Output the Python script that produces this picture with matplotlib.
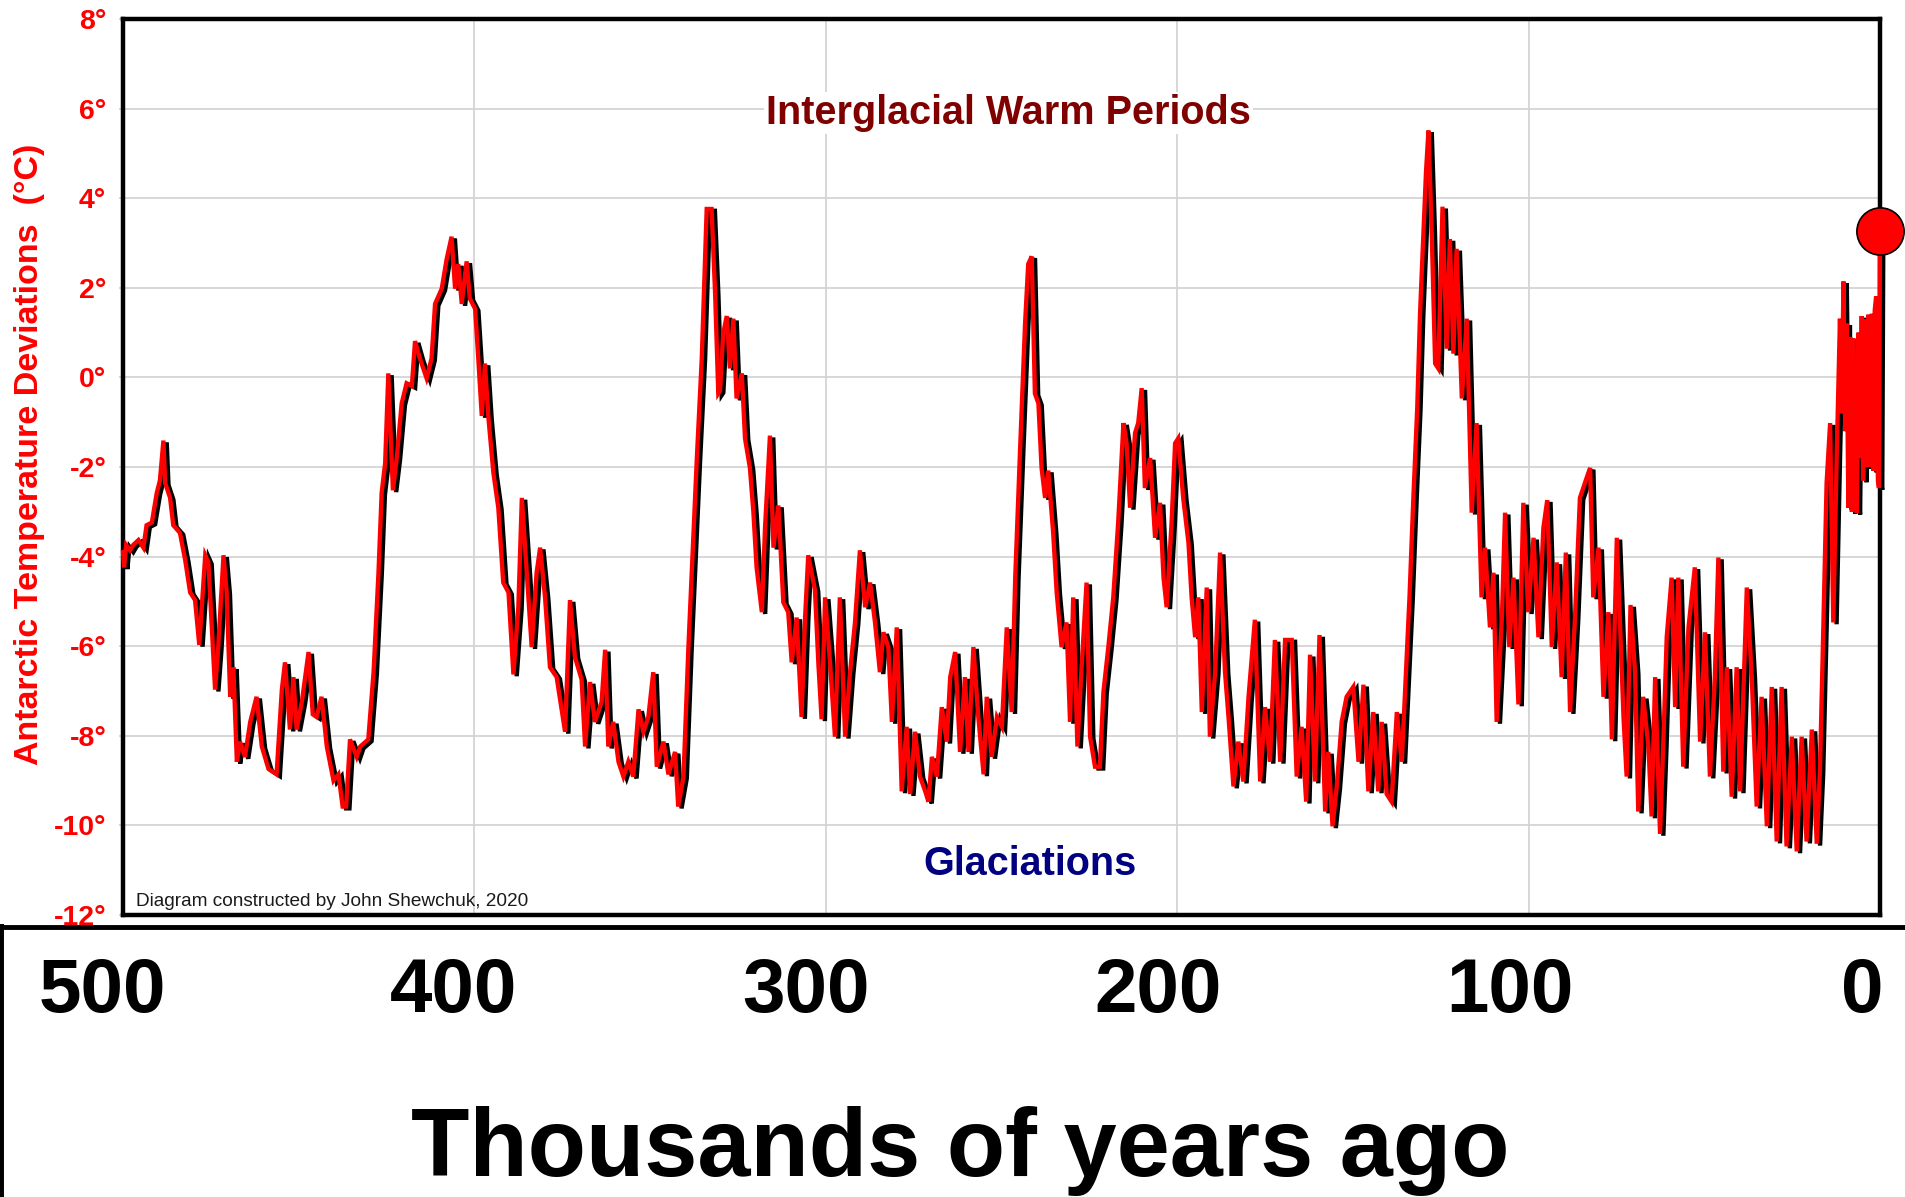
import matplotlib.pyplot as plt
import matplotlib.patheffects as pe
from matplotlib import font_manager

# Antarctic temperature deviation vs. thousands of years ago
age_kyr = [
    500.0, 499.7, 499.1, 498.0, 497.1, 495.6, 494.2, 493.3, 491.8, 490.4,
    489.5, 488.5, 488.0, 486.6, 485.7, 483.8, 482.3, 480.9, 479.5, 478.3,
    476.6, 475.7, 473.8, 472.9, 471.4, 470.5, 469.5, 468.6, 467.6, 466.7,
    465.3, 463.8, 462.0, 460.5, 458.6, 456.3, 454.8, 453.9, 452.5, 451.5,
    450.6, 449.1, 447.2, 446.0, 444.9, 443.5, 442.0, 440.1, 438.7, 437.5,
    436.5, 435.4, 433.5, 432.5, 430.2, 428.7, 427.3, 426.4, 425.4, 424.5,
    423.2, 422.1, 420.7, 419.3, 417.8, 416.9, 415.5, 413.6, 412.2, 411.2,
    409.3, 407.9, 406.5, 405.5, 404.6, 403.6, 402.2, 401.3, 399.8, 398.9,
    397.9, 397.0, 396.0, 394.6, 393.2, 391.8, 390.3, 388.9, 387.5, 386.5,
    385.1, 383.7, 382.3, 381.3, 379.9, 378.5, 376.6, 374.2, 372.8, 371.4,
    369.5, 368.5, 367.1, 365.7, 363.8, 362.8, 361.9, 360.5, 359.0, 357.6,
    356.2, 354.8, 353.3, 351.9, 350.5, 349.1, 348.1, 346.2, 344.8, 342.9,
    342.0, 340.5, 339.1, 337.7, 336.7, 335.3, 333.9, 332.5, 331.5, 330.6,
    330.1, 329.2, 328.2, 327.3, 326.3, 325.4, 323.9, 323.0, 321.6, 320.6,
    319.7, 318.2, 317.3, 315.9, 314.9, 313.5, 312.1, 310.7, 309.7, 308.3,
    306.9, 305.9, 305.0, 303.1, 302.1, 301.2, 300.2, 298.8, 297.4, 296.0,
    294.5, 293.1, 291.7, 290.3, 288.8, 287.4, 286.0, 284.6, 283.6, 282.2,
    281.2, 279.8, 278.4, 277.0, 276.0, 274.6, 273.2, 271.7, 270.8, 269.8,
    268.4, 267.0, 265.6, 264.6, 263.2, 261.8, 260.4, 259.4, 258.0, 256.6,
    255.1, 254.2, 252.8, 251.3, 249.9, 248.5, 247.1, 246.1, 244.7, 243.3,
    242.4, 241.4, 240.5, 239.5, 238.6, 237.6, 236.7, 235.3, 234.3, 232.9,
    231.5, 230.5, 229.6, 228.4, 227.2, 225.8, 224.8, 223.4, 222.0, 221.0,
    219.6, 218.2, 216.8, 215.3, 214.4, 213.4, 212.0, 211.1, 210.1, 209.2,
    207.7, 206.3, 204.9, 203.9, 203.0, 201.6, 200.6, 199.7, 198.3, 196.8,
    195.9, 194.9, 194.0, 193.0, 191.6, 190.7, 189.2, 187.8, 186.4, 185.4,
    184.0, 182.6, 181.2, 179.7, 177.9, 176.4, 175.0, 173.6, 172.2, 170.7,
    169.3, 167.4, 166.0, 164.6, 163.3, 162.2, 160.8, 159.5, 157.9, 157.0,
    155.8, 154.6, 153.2, 151.8, 149.9, 148.4, 147.0, 145.6, 144.2, 142.8,
    141.8, 140.4, 139.0, 137.5, 136.1, 134.9, 133.9, 132.8, 131.7, 130.9,
    130.0, 129.2, 128.5, 127.6, 126.6, 125.7, 124.5, 123.3, 122.4, 121.4,
    120.5, 119.0, 117.6, 116.2, 114.8, 113.4, 112.4, 111.0, 110.0, 109.1,
    107.6, 106.7, 105.5, 104.3, 102.9, 101.5, 100.1, 98.6, 97.2, 95.8,
    94.7, 93.4, 92.0, 90.6, 89.4, 88.2, 86.8, 85.4, 84.0, 82.5,
    81.6, 80.1, 78.7, 77.3, 76.3, 74.9, 73.0, 72.1, 71.0, 69.7,
    68.8, 67.4, 65.9, 65.0, 64.0, 62.6, 61.7, 60.7, 59.3, 58.3,
    57.4, 56.0, 54.5, 52.7, 51.2, 49.8, 48.4, 47.0, 46.0, 44.6,
    43.6, 42.2, 40.8, 39.8, 37.9, 36.5, 35.1, 33.7, 32.2, 30.8,
    29.4, 28.0, 26.6, 25.1, 23.7, 22.3, 20.9, 19.4, 18.0, 17.1,
    16.1, 15.2, 14.2, 13.3, 12.3, 11.4, 10.9, 10.4, 9.9, 9.5,
    9.0, 8.5, 8.0, 7.6, 7.1, 6.6, 6.1, 5.7, 5.2, 4.8,
    4.3, 3.8, 3.3, 2.8, 2.3, 1.9, 1.5, 1.1, 0.6, 0.3,
    0.0,
]
temp_c = [
    -3.90, -4.24, -3.74, -3.86, -3.74, -3.63, -3.80, -3.30, -3.24, -2.58,
    -2.30, -1.41, -2.36, -2.69, -3.30, -3.47, -4.08, -4.80, -4.97, -5.97,
    -3.97, -4.13, -6.97, -6.02, -3.97, -4.80, -7.13, -6.47, -8.58, -8.13,
    -8.47, -7.69, -7.13, -8.24, -8.74, -8.86, -6.97, -6.36, -7.86, -6.69,
    -7.86, -7.24, -6.13, -7.52, -7.58, -7.13, -8.24, -9.00, -8.86, -9.58,
    -9.58, -8.08, -8.47, -8.24, -8.08, -6.58, -4.36, -2.58, -1.91, 0.09,
    -2.52, -1.80, -0.58, -0.13, -0.19, 0.81, 0.42, -0.02, 0.42, 1.64,
    1.98, 2.64, 3.14, 1.98, 2.53, 1.64, 2.59, 1.76, 1.53, 0.42,
    -0.86, 0.31, -0.91, -2.13, -2.91, -4.58, -4.80, -6.63, -5.13, -2.69,
    -4.36, -6.02, -4.36, -3.80, -4.91, -6.47, -6.69, -7.91, -4.97, -6.24,
    -6.74, -8.24, -6.80, -7.69, -7.24, -6.08, -8.24, -7.69, -8.58, -8.91,
    -8.58, -8.91, -7.41, -7.91, -7.58, -6.58, -8.69, -8.13, -8.86, -8.36,
    -9.58, -8.91, -6.02, -3.58, -1.80, 0.42, 3.76, 3.76, 1.87, -0.36,
    -0.30, 0.98, 1.37, 0.20, 1.31, -0.47, 0.09, -1.36, -2.02, -3.02,
    -4.24, -5.24, -3.36, -1.30, -3.80, -2.86, -5.02, -5.24, -6.36, -5.36,
    -7.58, -5.36, -3.97, -4.74, -6.41, -7.63, -4.91, -6.36, -8.02, -4.91,
    -8.02, -6.58, -5.47, -3.86, -5.13, -4.58, -5.47, -6.58, -5.69, -6.02,
    -7.69, -5.58, -9.24, -7.80, -9.30, -7.91, -8.91, -9.24, -9.47, -8.47,
    -8.91, -7.36, -8.13, -6.69, -6.13, -8.36, -6.69, -8.36, -6.02, -7.58,
    -8.86, -7.13, -8.47, -7.58, -7.80, -5.58, -7.47, -4.47, -1.58, 1.20,
    2.53, 2.70, -0.36, -0.58, -2.02, -2.69, -2.08, -3.47, -4.80, -6.02,
    -5.47, -7.69, -4.91, -8.24, -6.47, -4.58, -8.02, -8.69, -8.69, -7.02,
    -6.02, -4.91, -3.24, -1.02, -1.47, -2.91, -1.24, -1.02, -0.24, -2.47,
    -1.80, -3.58, -2.80, -4.47, -5.13, -3.24, -1.47, -1.36, -2.69, -3.69,
    -4.91, -5.80, -4.91, -7.47, -4.69, -8.02, -6.58, -3.91, -6.58, -7.58,
    -9.13, -8.13, -9.02, -7.13, -5.41, -9.02, -7.36, -8.58, -5.86, -8.58,
    -5.86, -5.86, -8.91, -7.80, -9.47, -6.19, -9.02, -5.75, -9.69, -8.36,
    -10.02, -9.13, -7.69, -7.13, -6.91, -8.58, -6.86, -9.24, -7.47, -9.24,
    -7.69, -9.30, -9.47, -7.47, -8.58, -6.58, -4.91, -2.69, -0.69, 1.42,
    3.09, 4.59, 5.51, 3.31, 0.31, 0.20, 3.81, 0.64, 3.09, 0.53,
    2.87, -0.47, 1.31, -3.02, -1.02, -4.91, -3.80, -5.58, -4.36, -7.69,
    -5.36, -3.02, -6.02, -4.47, -7.30, -2.80, -5.24, -3.58, -5.80, -3.36,
    -2.74, -6.02, -4.13, -6.69, -3.91, -7.47, -5.36, -2.69, -2.36, -2.02,
    -4.91, -3.80, -7.13, -5.24, -8.08, -3.58, -7.58, -8.91, -5.08, -6.58,
    -9.69, -7.13, -8.24, -9.80, -6.69, -10.19, -8.24, -5.80, -4.47, -7.36,
    -4.47, -8.69, -5.58, -4.24, -8.13, -5.69, -8.91, -6.69, -4.02, -8.80,
    -6.47, -9.36, -6.47, -9.24, -4.69, -6.69, -9.58, -7.13, -10.02, -6.91,
    -10.36, -6.91, -10.47, -8.02, -10.58, -8.02, -10.36, -7.86, -10.41, -8.80,
    -5.47, -2.36, -1.02, -5.47, -1.69, 1.31, -0.80, 2.14, -1.20, 1.20,
    -2.91, 0.90, -3.00, 0.87, -2.50, -3.02, 1.00, -1.80, 1.37, -2.30,
    1.30, -2.00, 1.40, -2.00, 1.42, -2.08, 1.50, 1.81, -2.30, -2.47,
    3.26,
]
now_age = 0.0
now_temp = 3.26

y_ticks = [-12, -10, -8, -6, -4, -2, 0, 2, 4, 6, 8]
y_tick_labels = [f"{v}°" for v in y_ticks]
x_grid = [400, 300, 200, 100]
x_labels = [500, 400, 300, 200, 100, 0]

plt.rcParams['font.family'] = ['Liberation Sans', 'DejaVu Sans']

W, H = 1905, 1197
fig = plt.figure(figsize=(W / 100, H / 100), dpi=100)

# main chart
ax = fig.add_axes([123 / W, (H - 915) / H, 1757 / W, 896 / H])
ax.plot(age_kyr, temp_c, color='red', lw=3.1, clip_on=False, zorder=3,
        solid_joinstyle='miter',
        path_effects=[pe.SimpleLineShadow(offset=(2.4, -1.3), shadow_color='black', alpha=1),
                      pe.Normal()])
ax.plot([now_age], [now_temp], 'o', ms=34, mfc='red', mec='black', mew=1.2,
        clip_on=False, zorder=5)
ax.set_xlim(500, 0)
ax.set_ylim(-12, 8)
ax.set_xticks(x_grid)
ax.tick_params(axis='x', length=0, labelbottom=False)
ax.set_yticks(y_ticks)
ax.set_yticklabels(y_tick_labels)
ax.tick_params(axis='y', length=3, width=1.2, color='#cfcfcf', pad=9,
               labelcolor='red', labelsize=20.5)
for lab in ax.get_yticklabels():
    lab.set_fontweight('bold')
ax.grid(True, color='#d4d4d4', lw=1.3)
ax.set_axisbelow(True)
for s in ax.spines.values():
    s.set_linewidth(3.2)

ax.text(0.504, 0.883, 'Interglacial Warm Periods', transform=ax.transAxes,
        ha='center', va='baseline', fontsize=28.5, fontweight='bold', color='#800000',
        bbox=dict(facecolor='white', edgecolor='none', pad=1.5), zorder=4)
ax.text(0.516, 0.045, 'Glaciations', transform=ax.transAxes,
        ha='center', va='baseline', fontsize=28.5, fontweight='bold', color='#000080',
        bbox=dict(facecolor='white', edgecolor='none', pad=1.5), zorder=4)

names = {f.name for f in font_manager.fontManager.ttflist}
if 'Liberation Sans Narrow' in names:
    credit_font, credit_size = 'Liberation Sans Narrow', 16.5
else:
    credit_font, credit_size = 'Liberation Sans', 13.7
ax.text(0.0074, 0.01, 'Diagram constructed by John Shewchuk, 2020', transform=ax.transAxes,
        ha='left', va='baseline', fontsize=credit_size, family=credit_font, color='#1a1a1a')

fig.text(30 / W, 1 - 454 / H, 'Antarctic Temperature Deviations  (°C)', rotation=90,
         ha='center', va='center', color='red', fontsize=24.5, fontweight='bold')

# bottom panel with the age labels
ax2 = fig.add_axes([0, 0, 1, 270 / H])
ax2.patch.set_visible(False)
ax2.set_xlim(528.98, -12.2)
ax2.set_ylim(0, 1)
ax2.set_xticks([])
ax2.set_yticks([])
ax2.spines['right'].set_visible(False)
ax2.spines['bottom'].set_visible(False)
ax2.spines['top'].set_linewidth(3.5)
ax2.spines['left'].set_linewidth(5)
for v in x_labels:
    ax2.text(v, 0.685, str(v), ha='center', va='baseline', fontsize=55, fontweight='bold')

fig.text(960 / W, 21 / H, 'Thousands of years ago', ha='center', va='baseline',
         fontsize=68.8, fontweight='bold')

fig.savefig('out.png', dpi=100)
